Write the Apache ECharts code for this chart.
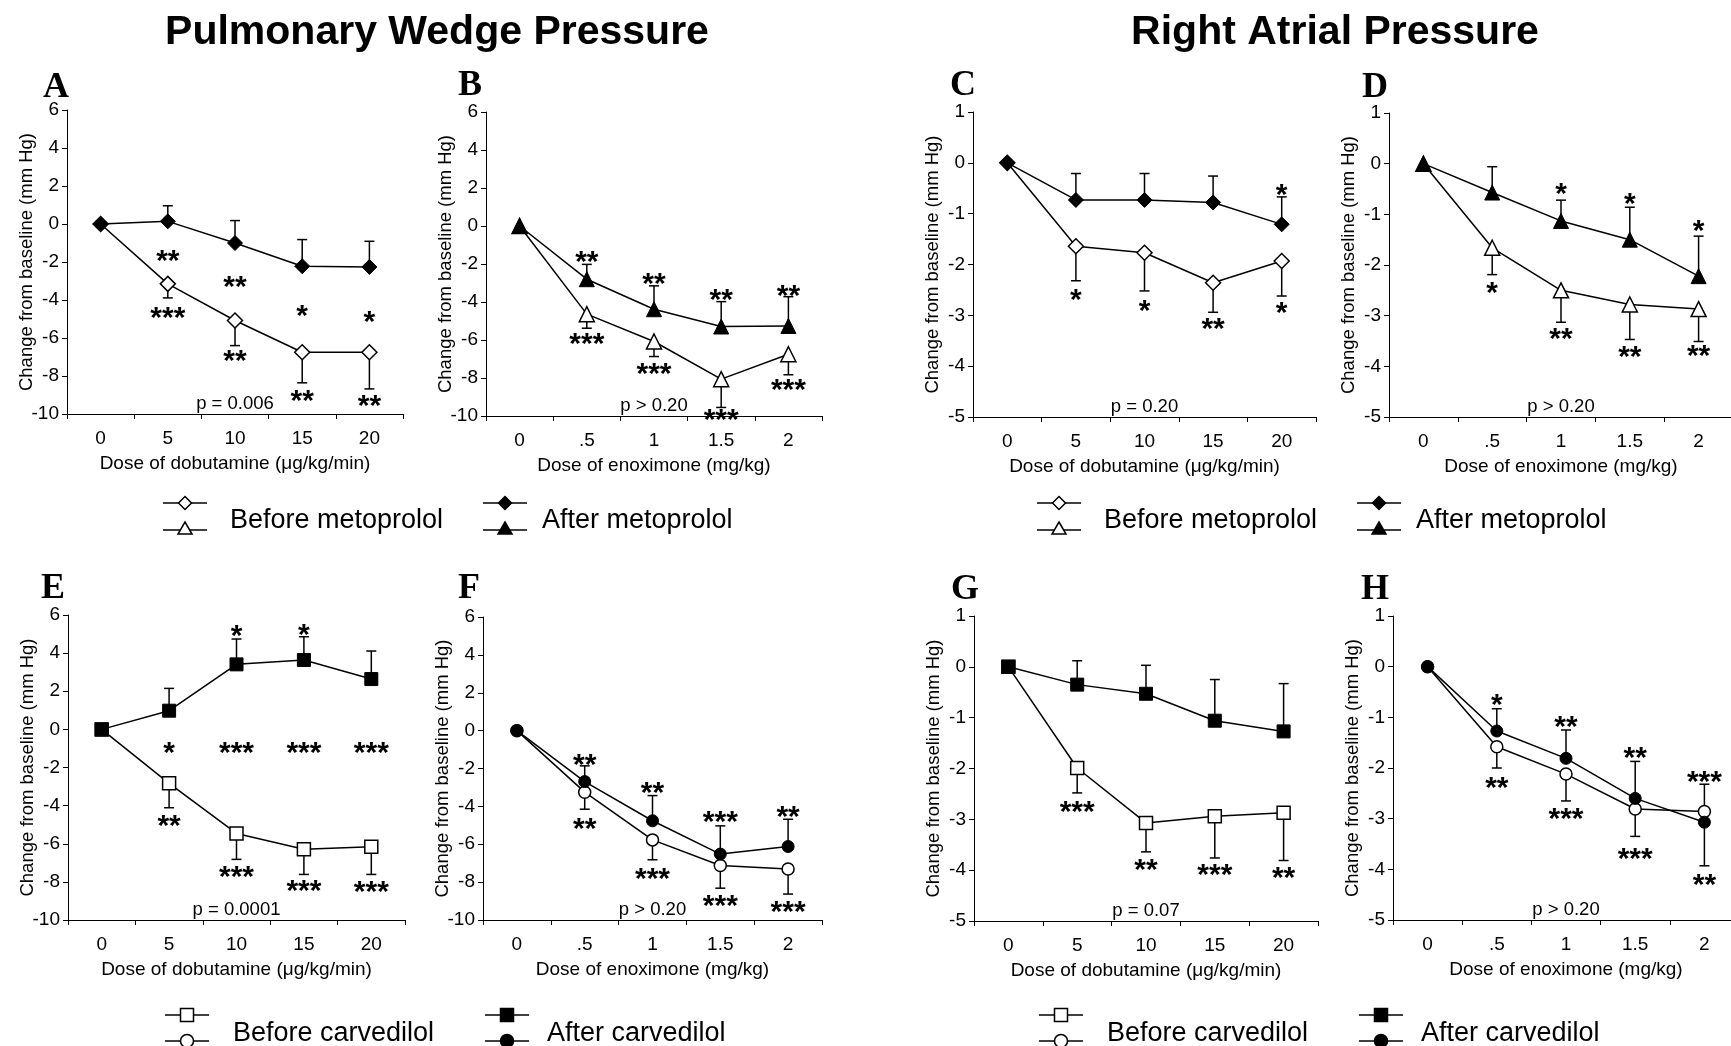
<!DOCTYPE html>
<html>
<head>
<meta charset="utf-8">
<title>Hemodynamic response to dobutamine and enoximone</title>
<script src="https://cdn.jsdelivr.net/npm/echarts@6/dist/echarts.min.js"></script>
<style>
  html, body { margin: 0; padding: 0; background: #fff; }
  #chart { width: 1731px; height: 1046px; }
</style>
</head>
<body>
<div id="chart"></div>
<script>
  // doses (x axis categories)
  var doseDobutamine = ['0', '5', '10', '15', '20'];
  var doseEnoximone = ['0', '.5', '1', '1.5', '2'];

  // A - pulmonary wedge pressure, dobutamine, metoprolol
  var pwpDobBeforeMeto = [0, -3.15, -5.08, -6.75, -6.75];
  var pwpDobBeforeMetoErr = [null, -3.89, -6.40, -8.36, -8.68];
  var pwpDobAfterMeto = [0, 0.14, -1.0, -2.22, -2.26];
  var pwpDobAfterMetoErr = [null, 0.96, 0.18, -0.82, -0.91];
  var starsA = [[1, -1.6, '**'], [1, -4.6, '***'], [2, -3.0, '**'], [2, -6.9, '**'],
                [3, -4.5, '*'], [3, -8.97, '**'], [4, -4.85, '*'], [4, -9.24, '**']];

  // B - pulmonary wedge pressure, enoximone, metoprolol
  var pwpEnoxBeforeMeto = [0, -4.64, -6.08, -8.06, -6.75];
  var pwpEnoxBeforeMetoErr = [null, -5.38, -6.87, -9.55, -7.83];
  var pwpEnoxAfterMeto = [0, -2.8, -4.38, -5.29, -5.26];
  var pwpEnoxAfterMetoErr = [null, -2.02, -3.15, -3.98, -3.72];
  var starsB = [[1, -1.58, '**'], [1, -5.87, '***'], [2, -2.72, '**'], [2, -7.45, '***'],
                [3, -3.59, '**'], [3, -9.9, '***'], [4, -3.38, '**'], [4, -8.32, '***']];

  // C - right atrial pressure, dobutamine, metoprolol
  var rapDobBeforeMeto = [0, -1.64, -1.77, -2.36, -1.93];
  var rapDobBeforeMetoErr = [null, -2.32, -2.52, -2.94, -2.62];
  var rapDobAfterMeto = [0, -0.73, -0.73, -0.78, -1.21];
  var rapDobAfterMetoErr = [null, -0.21, -0.21, -0.26, -0.67];
  var starsC = [[4, -0.5, '*'], [1, -2.57, '*'], [2, -2.8, '*'], [3, -3.14, '**'], [4, -2.83, '*']];

  // D - right atrial pressure, enoximone, metoprolol
  var rapEnoxBeforeMeto = [0, -1.66, -2.5, -2.78, -2.87];
  var rapEnoxBeforeMetoErr = [null, -2.19, -3.13, -3.47, -3.51];
  var rapEnoxAfterMeto = [0, -0.57, -1.13, -1.5, -2.22];
  var rapEnoxAfterMetoErr = [null, -0.06, -0.72, -0.86, -1.43];
  var starsD = [[1, -2.42, '*'], [2, -0.47, '*'], [2, -3.33, '**'], [3, -0.67, '*'],
                [3, -3.7, '**'], [4, -1.21, '*'], [4, -3.68, '**']];

  // E - pulmonary wedge pressure, dobutamine, carvedilol
  var pwpDobBeforeCarv = [0, -2.83, -5.46, -6.29, -6.16];
  var pwpDobBeforeCarvErr = [null, -4.11, -6.82, -7.61, -7.61];
  var pwpDobAfterCarv = [0, 0.98, 3.41, 3.64, 2.64];
  var pwpDobAfterCarvErr = [null, 2.15, 4.74, 4.86, 4.11];
  var starsE = [[2, 5.21, '*'], [3, 5.3, '*'], [1, -0.91, '*'], [2, -0.91, '***'], [3, -0.91, '***'],
                [4, -0.91, '***'], [1, -4.76, '**'], [2, -7.43, '***'], [3, -8.13, '***'], [4, -8.22, '***']];

  // F - pulmonary wedge pressure, enoximone, carvedilol
  var pwpEnoxBeforeCarv = [0, -3.25, -5.77, -7.12, -7.31];
  var pwpEnoxBeforeCarvErr = [null, -4.15, -6.82, -8.32, -8.63];
  var pwpEnoxAfterCarv = [0, -2.69, -4.76, -6.52, -6.12];
  var pwpEnoxAfterCarvErr = [null, -1.86, -3.43, -5.03, -4.68];
  var starsF = [[1, -1.46, '**'], [1, -4.89, '**'], [2, -2.95, '**'], [2, -7.53, '***'],
                [3, -4.5, '***'], [3, -8.93, '***'], [4, -4.24, '**'], [4, -9.25, '***']];

  // G - right atrial pressure, dobutamine, carvedilol
  var rapDobBeforeCarv = [0, -1.99, -3.07, -2.94, -2.87];
  var rapDobBeforeCarvErr = [null, -2.48, -3.64, -3.76, -3.81];
  var rapDobAfterCarv = [0, -0.35, -0.53, -1.06, -1.27];
  var rapDobAfterCarvErr = [null, 0.12, 0.03, -0.25, -0.33];
  var starsG = [[1, -2.73, '***'], [2, -3.88, '**'], [3, -3.97, '***'], [4, -4.04, '**']];

  // H - right atrial pressure, enoximone, carvedilol
  var rapEnoxBeforeCarv = [0, -1.58, -2.12, -2.81, -2.86];
  var rapEnoxBeforeCarvErr = [null, -2.0, -2.65, -3.35, -2.32];
  var rapEnoxAfterCarv = [0, -1.27, -1.81, -2.6, -3.07];
  var rapEnoxAfterCarvErr = [null, -0.83, -1.25, -1.87, -3.93];
  var starsH = [[1, -0.64, '*'], [1, -2.27, '**'], [2, -1.07, '**'], [2, -2.89, '***'],
                [3, -1.68, '**'], [3, -3.68, '***'], [4, -2.15, '***'], [4, -4.19, '**']];

  var FONT = 'Liberation Sans, Arial, sans-serif';
  var SERIF = 'Liberation Serif, Times New Roman, serif';
  var xNameDob = 'Dose of dobutamine (\u03bcg/kg/min)';
  var xNameEnox = 'Dose of enoximone (mg/kg)';

  var panels = [
    {letter: 'A', at: [56, 88], grid: {left: 67, top: 110, width: 336, height: 304}, cats: doseDobutamine, xName: xNameDob,
     y: [-10, 6, 2], p: 'p = 0.006', symbol: 'diamond', size: 15,
     before: pwpDobBeforeMeto, beforeErr: pwpDobBeforeMetoErr, after: pwpDobAfterMeto, afterErr: pwpDobAfterMetoErr, stars: starsA},
    {letter: 'B', at: [470, 86], grid: {left: 486, top: 112, width: 336, height: 304}, cats: doseEnoximone, xName: xNameEnox,
     y: [-10, 6, 2], p: 'p > 0.20', symbol: 'triangle', size: 15,
     before: pwpEnoxBeforeMeto, beforeErr: pwpEnoxBeforeMetoErr, after: pwpEnoxAfterMeto, afterErr: pwpEnoxAfterMetoErr, stars: starsB},
    {letter: 'C', at: [963, 86], grid: {left: 973, top: 112, width: 343, height: 305}, cats: doseDobutamine, xName: xNameDob,
     y: [-5, 1, 1], p: 'p = 0.20', symbol: 'diamond', size: 15,
     before: rapDobBeforeMeto, beforeErr: rapDobBeforeMetoErr, after: rapDobAfterMeto, afterErr: rapDobAfterMetoErr, stars: starsC},
    {letter: 'D', at: [1375, 88], grid: {left: 1389, top: 113, width: 344, height: 304}, cats: doseEnoximone, xName: xNameEnox,
     y: [-5, 1, 1], p: 'p > 0.20', symbol: 'triangle', size: 15,
     before: rapEnoxBeforeMeto, beforeErr: rapEnoxBeforeMetoErr, after: rapEnoxAfterMeto, afterErr: rapEnoxAfterMetoErr, stars: starsD},
    {letter: 'E', at: [53, 589], grid: {left: 68, top: 615, width: 337, height: 305}, cats: doseDobutamine, xName: xNameDob,
     y: [-10, 6, 2], p: 'p = 0.0001', symbol: 'rect', size: 13,
     before: pwpDobBeforeCarv, beforeErr: pwpDobBeforeCarvErr, after: pwpDobAfterCarv, afterErr: pwpDobAfterCarvErr, stars: starsE},
    {letter: 'F', at: [469, 589], grid: {left: 483, top: 617, width: 339, height: 303}, cats: doseEnoximone, xName: xNameEnox,
     y: [-10, 6, 2], p: 'p > 0.20', symbol: 'circle', size: 12,
     before: pwpEnoxBeforeCarv, beforeErr: pwpEnoxBeforeCarvErr, after: pwpEnoxAfterCarv, afterErr: pwpEnoxAfterCarvErr, stars: starsF},
    {letter: 'G', at: [965, 590], grid: {left: 974, top: 616, width: 344, height: 305}, cats: doseDobutamine, xName: xNameDob,
     y: [-5, 1, 1], p: 'p = 0.07', symbol: 'rect', size: 13,
     before: rapDobBeforeCarv, beforeErr: rapDobBeforeCarvErr, after: rapDobAfterCarv, afterErr: rapDobAfterCarvErr, stars: starsG},
    {letter: 'H', at: [1375, 590], grid: {left: 1393, top: 616, width: 346, height: 304}, cats: doseEnoximone, xName: xNameEnox,
     y: [-5, 1, 1], p: 'p > 0.20', symbol: 'circle', size: 12,
     before: rapEnoxBeforeCarv, beforeErr: rapEnoxBeforeCarvErr, after: rapEnoxAfterCarv, afterErr: rapEnoxAfterCarvErr, stars: starsH}
  ];

  // vertical error bar with a cap at the end value
  function renderErr(params, api) {
    var x = api.value(0);
    var p0 = api.coord([x, api.value(1)]);
    var p1 = api.coord([x, api.value(2)]);
    var st = {stroke: '#000', lineWidth: 1.5};
    return {
      type: 'group',
      children: [
        {type: 'line', shape: {x1: p0[0], y1: p0[1], x2: p1[0], y2: p1[1]}, style: st},
        {type: 'line', shape: {x1: p1[0] - 5, y1: p1[1], x2: p1[0] + 5, y2: p1[1]}, style: st}
      ]
    };
  }

  function errData(vals, ends) {
    var out = [];
    vals.forEach(function (v, k) {
      if (ends[k] != null) out.push([k, v, ends[k]]);
    });
    return out;
  }

  var grids = [], xAxes = [], yAxes = [], series = [], graphics = [];

  panels.forEach(function (pn, i) {
    grids.push(Object.assign({outerBoundsMode: 'none', containLabel: false}, pn.grid));
    xAxes.push({
      type: 'category', gridIndex: i, data: pn.cats, boundaryGap: true,
      name: pn.xName, nameLocation: 'middle', nameGap: 40, nameMoveOverlap: false,
      nameTextStyle: {fontFamily: FONT, fontSize: 19, color: '#000'},
      axisLine: {onZero: false, lineStyle: {color: '#000', width: 1}},
      axisTick: {show: true, alignWithLabel: false, length: 5, lineStyle: {color: '#000'}},
      axisLabel: {fontFamily: FONT, fontSize: 19, color: '#000', margin: 15},
      splitLine: {show: false}
    });
    yAxes.push({
      type: 'value', gridIndex: i, min: pn.y[0], max: pn.y[1], interval: pn.y[2],
      name: 'Change from baseline (mm Hg)', nameLocation: 'middle', nameGap: 31, nameRotate: 90,
      nameMoveOverlap: false,
      nameTextStyle: {fontFamily: FONT, fontSize: 18.5, color: '#000'},
      axisLine: {show: true, lineStyle: {color: '#000', width: 1}},
      axisTick: {show: true, length: 5, lineStyle: {color: '#000'}},
      axisLabel: {fontFamily: FONT, fontSize: 19, color: '#000', margin: 8},
      splitLine: {show: false}
    });

    var ax = {xAxisIndex: i, yAxisIndex: i};
    series.push(Object.assign({type: 'custom', renderItem: renderErr, data: errData(pn.before, pn.beforeErr),
      encode: {x: 0, y: [1, 2]}, silent: true, clip: false}, ax));
    series.push(Object.assign({type: 'custom', renderItem: renderErr, data: errData(pn.after, pn.afterErr),
      encode: {x: 0, y: [1, 2]}, silent: true, clip: false}, ax));
    series.push(Object.assign({
      type: 'line', name: 'before', data: pn.before, symbol: pn.symbol, symbolSize: pn.size, showSymbol: true,
      lineStyle: {color: '#000', width: 1.5},
      itemStyle: {color: '#fff', borderColor: '#000', borderWidth: 1.5}, silent: true
    }, ax));
    series.push(Object.assign({
      type: 'line', name: 'after', data: pn.after, symbol: pn.symbol, symbolSize: pn.size, showSymbol: true,
      lineStyle: {color: '#000', width: 1.5},
      itemStyle: {color: '#000', borderColor: '#000', borderWidth: 1}, silent: true
    }, ax));
    // significance stars
    series.push(Object.assign({
      type: 'scatter', data: pn.stars, symbolSize: 0, silent: true, clip: false,
      itemStyle: {opacity: 1},
      label: {show: true, position: 'inside', formatter: function (q) { return q.data[2]; },
        fontFamily: FONT, fontSize: 30, fontWeight: 'bold', color: '#000', offset: [0, 7]}
    }, ax));
    // p value over the x axis
    series.push(Object.assign({
      type: 'scatter', data: [[2, pn.y[0], pn.p]], symbolSize: 0, silent: true, clip: false,
      itemStyle: {opacity: 1},
      label: {show: true, position: 'top', distance: 1, formatter: function (q) { return q.data[2]; },
        fontFamily: FONT, fontSize: 18.5, color: '#000'}
    }, ax));

    graphics.push({type: 'text', x: pn.at[0], y: pn.at[1],
      style: {text: pn.letter, fontFamily: SERIF, fontSize: 36, fontWeight: 'bold', fill: '#000',
        textAlign: 'center', textVerticalAlign: 'middle'}});
  });

  // section titles
  graphics.push({type: 'text', x: 437, y: 33, style: {text: 'Pulmonary Wedge Pressure', fontFamily: FONT,
    fontSize: 41, fontWeight: 'bold', fill: '#000', textAlign: 'center', textVerticalAlign: 'middle'}});
  graphics.push({type: 'text', x: 1335, y: 33, style: {text: 'Right Atrial Pressure', fontFamily: FONT,
    fontSize: 41, fontWeight: 'bold', fill: '#000', textAlign: 'center', textVerticalAlign: 'middle'}});

  // legend keys (two stacked markers per entry)
  function legendMark(shape, filled, cx, cy) {
    var st = {fill: filled ? '#000' : '#fff', stroke: '#000', lineWidth: 1.5};
    if (shape === 'diamond') return {type: 'polygon', shape: {points: [[cx, cy - 6.5], [cx + 6.5, cy], [cx, cy + 6.5], [cx - 6.5, cy]]}, style: st};
    if (shape === 'triangle') return {type: 'polygon', shape: {points: [[cx, cy - 8], [cx + 7, cy + 4], [cx - 7, cy + 4]]}, style: st};
    if (shape === 'rect') return {type: 'rect', shape: {x: cx - 6.5, y: cy - 6.5, width: 13, height: 13}, style: st};
    return {type: 'circle', shape: {cx: cx, cy: cy, r: 6.5}, style: st};
  }
  function legendEntry(cx, y1, y2, s1, s2, filled, label, tx, ty) {
    var ln = {stroke: '#000', lineWidth: 1.5};
    graphics.push({type: 'line', shape: {x1: cx - 22, y1: y1, x2: cx + 22, y2: y1}, style: ln});
    graphics.push(legendMark(s1, filled, cx, y1));
    graphics.push({type: 'line', shape: {x1: cx - 22, y1: y2, x2: cx + 22, y2: y2}, style: ln});
    graphics.push(legendMark(s2, filled, cx, y2));
    graphics.push({type: 'text', x: tx, y: ty, style: {text: label, fontFamily: FONT, fontSize: 27,
      fill: '#000', textAlign: 'left', textVerticalAlign: 'middle'}});
  }
  [0, 874].forEach(function (dx) {
    legendEntry(185 + dx, 503, 530, 'diamond', 'triangle', false, 'Before metoprolol', 230 + dx, 521);
    legendEntry(505 + dx, 503, 530, 'diamond', 'triangle', true, 'After metoprolol', 542 + dx, 521);
    legendEntry(187 + dx, 1015, 1041, 'rect', 'circle', false, 'Before carvedilol', 233 + dx, 1034);
    legendEntry(507 + dx, 1015, 1041, 'rect', 'circle', true, 'After carvedilol', 547 + dx, 1034);
  });

  var chart = echarts.init(document.getElementById('chart'));
  chart.setOption({
    backgroundColor: '#fff',
    animation: false,
    grid: grids,
    xAxis: xAxes,
    yAxis: yAxes,
    series: series,
    graphic: graphics
  });
</script>
</body>
</html>
